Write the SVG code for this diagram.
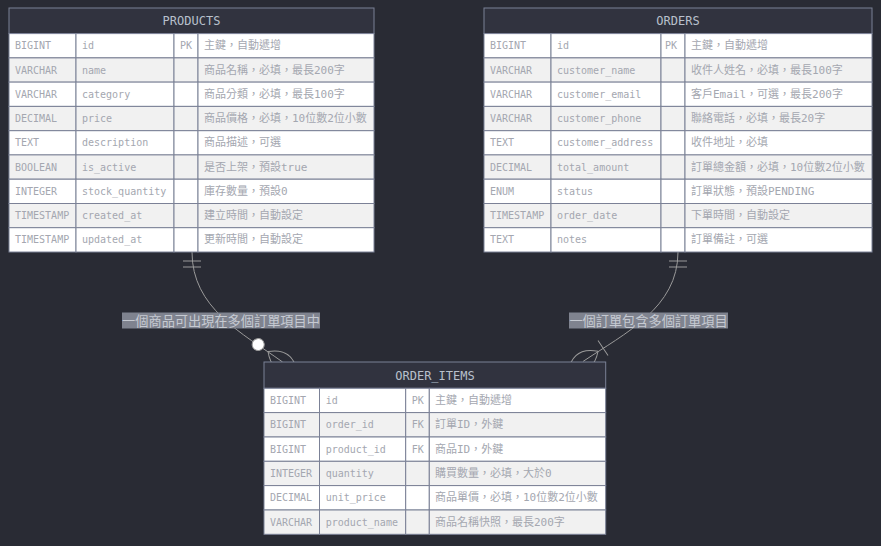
<svg xmlns="http://www.w3.org/2000/svg" width="881" height="546" viewBox="0 0 881 546">
<style>
.bg{fill:#292b34}
.hd{fill:#31333f;stroke:#7b8196;stroke-width:1}
.ro{fill:#ffffff;stroke:#7b8196;stroke-width:1}
.re{fill:#f1f1f1;stroke:#7b8196;stroke-width:1}
.ht{font-family:"DejaVu Sans Mono","Liberation Mono",monospace;font-size:12px;fill:#b8c0cc;text-anchor:middle;dominant-baseline:central}
.t{font-family:"DejaVu Sans Mono","Liberation Mono","Noto Sans CJK TC",monospace;font-size:10px;fill:#a4a7b0;dominant-baseline:central}
.c{font-family:"DejaVu Sans Mono","Noto Sans CJK TC",monospace;font-size:11px;fill:#a4a7b0;dominant-baseline:central}
.edge{fill:none;stroke:#9a9a9a;stroke-width:1}
.mk{fill:none;stroke:#9a9a9a;stroke-width:1}
.lb{fill:#7f838f}
.lt{font-family:"Noto Sans CJK TC","Noto Sans",sans-serif;font-size:13.2px;fill:#c6cad2;text-anchor:middle;dominant-baseline:central}
</style>
<defs>
<marker id="ONLY_ONE_START" refX="0" refY="9" markerWidth="18" markerHeight="18" orient="auto" markerUnits="userSpaceOnUse">
<path class="mk" d="M9,0 L9,18 M15,0 L15,18"/>
</marker>
<marker id="ZERO_OR_MORE_END" refX="39" refY="18" markerWidth="57" markerHeight="36" orient="auto" markerUnits="userSpaceOnUse">
<circle cx="9" cy="18" r="6" fill="#ffffff" stroke="#9a9a9a" stroke-width="1"/>
<path class="mk" d="M21,18 Q39,0 57,18 Q39,36 21,18"/>
</marker>
<marker id="ONE_OR_MORE_END" refX="27" refY="18" markerWidth="45" markerHeight="36" orient="auto" markerUnits="userSpaceOnUse">
<path class="mk" d="M3,9 L3,27 M9,18 Q27,0 45,18 Q27,36 9,18"/>
</marker>
</defs>
<rect class="bg" x="0" y="0" width="881" height="546"/>
<g id="connectors">
<path class="edge" d="M192,252 C192,308 242,333 282.6,362" marker-start="url(#ONLY_ONE_START)" marker-end="url(#ZERO_OR_MORE_END)"/>
<path class="edge" d="M678,252 C678,308 624.6,333.5 583.1,361.4" marker-start="url(#ONLY_ONE_START)" marker-end="url(#ONE_OR_MORE_END)"/>
<rect class="lb" x="122" y="312.5" width="198" height="16"/>
<text class="lt" x="221" y="320.5">一個商品可出現在多個訂單項目中</text>
<rect class="lb" x="569" y="312.5" width="159" height="16"/>
<text class="lt" x="648.5" y="320.5">一個訂單包含多個訂單項目</text>
</g>
<g id="PRODUCTS">
<rect class="hd" x="9" y="8" width="365" height="25.6"/>
<text class="ht" x="191.5" y="21">PRODUCTS</text>
<g>
<rect class="ro" x="9" y="33.6" width="67" height="24.3"/><rect class="ro" x="76" y="33.6" width="98" height="24.3"/><rect class="ro" x="174" y="33.6" width="24" height="24.3"/><rect class="ro" x="198" y="33.6" width="176" height="24.3"/>
<rect class="re" x="9" y="57.9" width="67" height="24.3"/><rect class="re" x="76" y="57.9" width="98" height="24.3"/><rect class="re" x="174" y="57.9" width="24" height="24.3"/><rect class="re" x="198" y="57.9" width="176" height="24.3"/>
<rect class="ro" x="9" y="82.1" width="67" height="24.3"/><rect class="ro" x="76" y="82.1" width="98" height="24.3"/><rect class="ro" x="174" y="82.1" width="24" height="24.3"/><rect class="ro" x="198" y="82.1" width="176" height="24.3"/>
<rect class="re" x="9" y="106.4" width="67" height="24.3"/><rect class="re" x="76" y="106.4" width="98" height="24.3"/><rect class="re" x="174" y="106.4" width="24" height="24.3"/><rect class="re" x="198" y="106.4" width="176" height="24.3"/>
<rect class="ro" x="9" y="130.7" width="67" height="24.3"/><rect class="ro" x="76" y="130.7" width="98" height="24.3"/><rect class="ro" x="174" y="130.7" width="24" height="24.3"/><rect class="ro" x="198" y="130.7" width="176" height="24.3"/>
<rect class="re" x="9" y="154.9" width="67" height="24.3"/><rect class="re" x="76" y="154.9" width="98" height="24.3"/><rect class="re" x="174" y="154.9" width="24" height="24.3"/><rect class="re" x="198" y="154.9" width="176" height="24.3"/>
<rect class="ro" x="9" y="179.2" width="67" height="24.3"/><rect class="ro" x="76" y="179.2" width="98" height="24.3"/><rect class="ro" x="174" y="179.2" width="24" height="24.3"/><rect class="ro" x="198" y="179.2" width="176" height="24.3"/>
<rect class="re" x="9" y="203.5" width="67" height="24.3"/><rect class="re" x="76" y="203.5" width="98" height="24.3"/><rect class="re" x="174" y="203.5" width="24" height="24.3"/><rect class="re" x="198" y="203.5" width="176" height="24.3"/>
<rect class="ro" x="9" y="227.7" width="67" height="24.3"/><rect class="ro" x="76" y="227.7" width="98" height="24.3"/><rect class="ro" x="174" y="227.7" width="24" height="24.3"/><rect class="ro" x="198" y="227.7" width="176" height="24.3"/>
</g>
<text class="t" x="15" y="45.7">BIGINT</text><text class="t" x="82" y="45.7">id</text><text class="t" x="180" y="45.7">PK</text><text class="c" x="204" y="45.7">主鍵，自動遞增</text>
<text class="t" x="15" y="70">VARCHAR</text><text class="t" x="82" y="70">name</text><text class="c" x="204" y="70">商品名稱，必填，最長200字</text>
<text class="t" x="15" y="94.3">VARCHAR</text><text class="t" x="82" y="94.3">category</text><text class="c" x="204" y="94.3">商品分類，必填，最長100字</text>
<text class="t" x="15" y="118.6">DECIMAL</text><text class="t" x="82" y="118.6">price</text><text class="c" x="204" y="118.6">商品價格，必填，10位數2位小數</text>
<text class="t" x="15" y="142.8">TEXT</text><text class="t" x="82" y="142.8">description</text><text class="c" x="204" y="142.8">商品描述，可選</text>
<text class="t" x="15" y="167.1">BOOLEAN</text><text class="t" x="82" y="167.1">is_active</text><text class="c" x="204" y="167.1">是否上架，預設true</text>
<text class="t" x="15" y="191.4">INTEGER</text><text class="t" x="82" y="191.4">stock_quantity</text><text class="c" x="204" y="191.4">庫存數量，預設0</text>
<text class="t" x="15" y="215.6">TIMESTAMP</text><text class="t" x="82" y="215.6">created_at</text><text class="c" x="204" y="215.6">建立時間，自動設定</text>
<text class="t" x="15" y="239.9">TIMESTAMP</text><text class="t" x="82" y="239.9">updated_at</text><text class="c" x="204" y="239.9">更新時間，自動設定</text>
</g>
<g id="ORDERS">
<rect class="hd" x="484" y="8" width="388" height="25.6"/>
<text class="ht" x="678" y="21">ORDERS</text>
<g>
<rect class="ro" x="484" y="33.6" width="67" height="24.3"/><rect class="ro" x="551" y="33.6" width="110" height="24.3"/><rect class="ro" x="661" y="33.6" width="24" height="24.3"/><rect class="ro" x="685" y="33.6" width="187" height="24.3"/>
<rect class="re" x="484" y="57.9" width="67" height="24.3"/><rect class="re" x="551" y="57.9" width="110" height="24.3"/><rect class="re" x="661" y="57.9" width="24" height="24.3"/><rect class="re" x="685" y="57.9" width="187" height="24.3"/>
<rect class="ro" x="484" y="82.1" width="67" height="24.3"/><rect class="ro" x="551" y="82.1" width="110" height="24.3"/><rect class="ro" x="661" y="82.1" width="24" height="24.3"/><rect class="ro" x="685" y="82.1" width="187" height="24.3"/>
<rect class="re" x="484" y="106.4" width="67" height="24.3"/><rect class="re" x="551" y="106.4" width="110" height="24.3"/><rect class="re" x="661" y="106.4" width="24" height="24.3"/><rect class="re" x="685" y="106.4" width="187" height="24.3"/>
<rect class="ro" x="484" y="130.7" width="67" height="24.3"/><rect class="ro" x="551" y="130.7" width="110" height="24.3"/><rect class="ro" x="661" y="130.7" width="24" height="24.3"/><rect class="ro" x="685" y="130.7" width="187" height="24.3"/>
<rect class="re" x="484" y="154.9" width="67" height="24.3"/><rect class="re" x="551" y="154.9" width="110" height="24.3"/><rect class="re" x="661" y="154.9" width="24" height="24.3"/><rect class="re" x="685" y="154.9" width="187" height="24.3"/>
<rect class="ro" x="484" y="179.2" width="67" height="24.3"/><rect class="ro" x="551" y="179.2" width="110" height="24.3"/><rect class="ro" x="661" y="179.2" width="24" height="24.3"/><rect class="ro" x="685" y="179.2" width="187" height="24.3"/>
<rect class="re" x="484" y="203.5" width="67" height="24.3"/><rect class="re" x="551" y="203.5" width="110" height="24.3"/><rect class="re" x="661" y="203.5" width="24" height="24.3"/><rect class="re" x="685" y="203.5" width="187" height="24.3"/>
<rect class="ro" x="484" y="227.7" width="67" height="24.3"/><rect class="ro" x="551" y="227.7" width="110" height="24.3"/><rect class="ro" x="661" y="227.7" width="24" height="24.3"/><rect class="ro" x="685" y="227.7" width="187" height="24.3"/>
</g>
<text class="t" x="490" y="45.7">BIGINT</text><text class="t" x="557" y="45.7">id</text><text class="t" x="665" y="45.7">PK</text><text class="c" x="691" y="45.7">主鍵，自動遞增</text>
<text class="t" x="490" y="70">VARCHAR</text><text class="t" x="557" y="70">customer_name</text><text class="c" x="691" y="70">收件人姓名，必填，最長100字</text>
<text class="t" x="490" y="94.3">VARCHAR</text><text class="t" x="557" y="94.3">customer_email</text><text class="c" x="691" y="94.3">客戶Email，可選，最長200字</text>
<text class="t" x="490" y="118.6">VARCHAR</text><text class="t" x="557" y="118.6">customer_phone</text><text class="c" x="691" y="118.6">聯絡電話，必填，最長20字</text>
<text class="t" x="490" y="142.8">TEXT</text><text class="t" x="557" y="142.8">customer_address</text><text class="c" x="691" y="142.8">收件地址，必填</text>
<text class="t" x="490" y="167.1">DECIMAL</text><text class="t" x="557" y="167.1">total_amount</text><text class="c" x="691" y="167.1">訂單總金額，必填，10位數2位小數</text>
<text class="t" x="490" y="191.4">ENUM</text><text class="t" x="557" y="191.4">status</text><text class="c" x="691" y="191.4">訂單狀態，預設PENDING</text>
<text class="t" x="490" y="215.6">TIMESTAMP</text><text class="t" x="557" y="215.6">order_date</text><text class="c" x="691" y="215.6">下單時間，自動設定</text>
<text class="t" x="490" y="239.9">TEXT</text><text class="t" x="557" y="239.9">notes</text><text class="c" x="691" y="239.9">訂單備註，可選</text>
</g>
<g id="ORDER_ITEMS">
<rect class="hd" x="264" y="362" width="341.7" height="26.3"/>
<text class="ht" x="435" y="375.5">ORDER_ITEMS</text>
<g>
<rect class="ro" x="264" y="388.3" width="55.5" height="24.3"/><rect class="ro" x="319.5" y="388.3" width="86.2" height="24.3"/><rect class="ro" x="405.7" y="388.3" width="23.6" height="24.3"/><rect class="ro" x="429.3" y="388.3" width="176.4" height="24.3"/>
<rect class="re" x="264" y="412.6" width="55.5" height="24.4"/><rect class="re" x="319.5" y="412.6" width="86.2" height="24.4"/><rect class="re" x="405.7" y="412.6" width="23.6" height="24.4"/><rect class="re" x="429.3" y="412.6" width="176.4" height="24.4"/>
<rect class="ro" x="264" y="437" width="55.5" height="24.3"/><rect class="ro" x="319.5" y="437" width="86.2" height="24.3"/><rect class="ro" x="405.7" y="437" width="23.6" height="24.3"/><rect class="ro" x="429.3" y="437" width="176.4" height="24.3"/>
<rect class="re" x="264" y="461.3" width="55.5" height="24.3"/><rect class="re" x="319.5" y="461.3" width="86.2" height="24.3"/><rect class="re" x="405.7" y="461.3" width="23.6" height="24.3"/><rect class="re" x="429.3" y="461.3" width="176.4" height="24.3"/>
<rect class="ro" x="264" y="485.6" width="55.5" height="24.4"/><rect class="ro" x="319.5" y="485.6" width="86.2" height="24.4"/><rect class="ro" x="405.7" y="485.6" width="23.6" height="24.4"/><rect class="ro" x="429.3" y="485.6" width="176.4" height="24.4"/>
<rect class="re" x="264" y="510" width="55.5" height="24.3"/><rect class="re" x="319.5" y="510" width="86.2" height="24.3"/><rect class="re" x="405.7" y="510" width="23.6" height="24.3"/><rect class="re" x="429.3" y="510" width="176.4" height="24.3"/>
</g>
<text class="t" x="270" y="400.5">BIGINT</text><text class="t" x="325.7" y="400.5">id</text><text class="t" x="411.7" y="400.5">PK</text><text class="c" x="435" y="400.5">主鍵，自動遞增</text>
<text class="t" x="270" y="424.8">BIGINT</text><text class="t" x="325.7" y="424.8">order_id</text><text class="t" x="411.7" y="424.8">FK</text><text class="c" x="435" y="424.8">訂單ID，外鍵</text>
<text class="t" x="270" y="449.1">BIGINT</text><text class="t" x="325.7" y="449.1">product_id</text><text class="t" x="411.7" y="449.1">FK</text><text class="c" x="435" y="449.1">商品ID，外鍵</text>
<text class="t" x="270" y="473.5">INTEGER</text><text class="t" x="325.7" y="473.5">quantity</text><text class="c" x="435" y="473.5">購買數量，必填，大於0</text>
<text class="t" x="270" y="497.8">DECIMAL</text><text class="t" x="325.7" y="497.8">unit_price</text><text class="c" x="435" y="497.8">商品單價，必填，10位數2位小數</text>
<text class="t" x="270" y="522.1">VARCHAR</text><text class="t" x="325.7" y="522.1">product_name</text><text class="c" x="435" y="522.1">商品名稱快照，最長200字</text>
</g>
</svg>
